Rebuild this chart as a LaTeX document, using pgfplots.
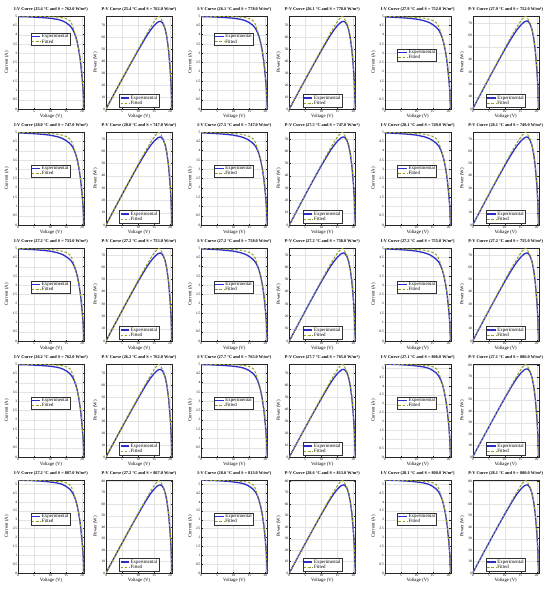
\documentclass[border=0pt]{standalone}
\usepackage{fontspec}
\setmainfont{Liberation Serif}
\usepackage{pgfplots}
\pgfplotsset{compat=1.18}
\usepackage{pgfplotstable}

\definecolor{expblue}{RGB}{45,45,200}
\definecolor{fitolive}{RGB}{145,160,35}

\pgfplotstableread{
V I P
0 4.97 0
2 4.96 9.92
4 4.95 19.80
6 4.93 29.58
8 4.91 39.28
10 4.88 48.80
12 4.83 57.96
13 4.79 62.27
14 4.73 66.22
15 4.64 69.60
16 4.51 72.16
16.5 4.42 72.93
17 4.30 73.10
17.5 4.13 72.28
18 3.90 70.20
18.5 3.58 66.23
19 3.14 59.66
19.5 2.55 49.73
20 1.70 34.00
20.3 1.05 21.32
20.6 0 0
}\expA
\pgfplotstableread{
V I P
0 4.99 0
2 4.99 9.98
4 4.98 19.92
6 4.98 29.88
8 4.97 39.76
10 4.96 49.60
12 4.94 59.28
13 4.93 64.09
14 4.90 68.60
15 4.86 72.90
15.5 4.82 74.71
16 4.77 76.32
16.5 4.70 77.55
17 4.48 76.16
17.5 4.22 73.85
18 3.95 71.10
18.5 3.60 66.60
19 3.20 60.80
19.5 2.62 51.09
20 1.78 35.60
20.3 1.10 22.33
20.6 0 0
}\fitA
\pgfplotstableread{
V I P
0 4.95 0
2 4.94 9.88
4 4.92 19.68
6 4.90 29.40
8 4.87 38.96
10 4.83 48.30
12 4.76 57.12
13 4.71 61.23
14 4.64 64.96
15 4.54 68.10
16 4.41 70.56
16.5 4.32 71.28
17 4.21 71.57
17.5 4.04 70.70
18 3.81 68.58
18.5 3.50 64.75
19 3.07 58.33
19.5 2.49 48.56
20 1.66 33.20
20.3 1.03 20.91
20.6 0 0
}\expB
\pgfplotstableread{
V I P
0 4.97 0
2 4.97 9.94
4 4.96 19.84
6 4.95 29.70
8 4.94 39.52
10 4.92 49.20
12 4.89 58.68
13 4.86 63.18
14 4.82 67.48
15 4.76 71.40
15.5 4.71 73.01
16 4.65 74.40
16.5 4.58 75.57
17 4.37 74.29
17.5 4.11 71.93
18 3.85 69.30
18.5 3.51 64.94
19 3.12 59.28
19.5 2.55 49.73
20 1.74 34.80
20.3 1.07 21.72
20.6 0 0
}\fitB
\pgfplotstableread{
V I P
0 5.22 0
2 5.21 10.42
4 5.20 20.80
6 5.18 31.08
8 5.16 41.28
10 5.12 51.20
12 5.07 60.84
13 5.03 65.39
14 4.97 69.58
15 4.87 73.05
16 4.74 75.84
16.5 4.64 76.56
17 4.52 76.84
17.5 4.34 75.95
18 4.10 73.80
18.5 3.76 69.56
19 3.30 62.70
19.5 2.68 52.26
20 1.79 35.80
20.3 1.10 22.33
20.6 0 0
}\expC
\pgfplotstableread{
V I P
0 5.23 0
2 5.22 10.44
4 5.21 20.84
6 5.20 31.20
8 5.19 41.52
10 5.18 51.80
12 5.16 61.92
13 5.15 66.95
14 5.12 71.68
15 5.08 76.20
15.5 5.04 78.12
16 4.98 79.68
16.5 4.91 81.02
17 4.68 79.56
17.5 4.41 77.18
18 4.13 74.34
18.5 3.76 69.56
19 3.34 63.46
19.5 2.74 53.43
20 1.86 37.20
20.3 1.15 23.35
20.6 0 0
}\fitC

\pgfplotsset{
  pbase/.style={
    scale only axis, width=132pt, height=186pt,
    xmin=0, xmax=20.6, ymin=0, enlargelimits=false,
    xtick={0,5,10,15,20},
    grid=major, major grid style={gray!22, line width=0.4pt},
    axis line style={black!85, line width=0.6pt},
    tick align=inside, major tick length=2.5pt,
    tick style={black!85, line width=0.5pt},
    tick label style={font=\fontsize{7}{7}\selectfont},
    /pgf/number format/assume math mode=true,
    xticklabel style={inner sep=1.5pt},
    yticklabel style={inner sep=1.5pt},
    xlabel={Voltage (V)},
    xlabel style={font=\fontsize{9.5}{9.5}\selectfont, at={(axis description cs:0.5,-0.06)}, anchor=north, inner sep=0pt},
    title style={font=\bfseries\fontsize{8.6}{9}\selectfont, at={(axis description cs:0.5,1)}, anchor=south, inner sep=2pt},
    legend cell align=left,
    legend style={font=\fontsize{9.8}{9.8}\selectfont, draw=black!80, line width=0.4pt,
      inner sep=1pt, row sep=-1.5pt, fill=white},
  },
  ivstyle/.style={pbase, ymax=5,
    ytick={0,0.5,1,1.5,2,2.5,3,3.5,4,4.5,5},
    ylabel={Current (A)},
    ylabel style={font=\fontsize{9.5}{9.5}\selectfont, at={(axis description cs:-0.17,0.5)}, anchor=center},
  },
  pvstyle/.style={pbase,
    ytick={0,10,20,30,40,50,60,70,80},
    ylabel={Power (W)},
    ylabel style={font=\fontsize{9.5}{9.5}\selectfont, at={(axis description cs:-0.16,0.5)}, anchor=center},
    legend style={at={(axis description cs:0.5,0.02)}, anchor=south},
  },
  expline/.style={expblue, line width=2.6pt, solid},
  fitline/.style={fitolive, line width=2pt, dash pattern=on 5pt off 3.5pt},
}

% #1 x offset, #2 y top, #3 temp, #4 irradiance, #5 exp table, #6 fit table,
% #7 I-V legend y, #8 I-V ymax, #9 P-V ymax
\newcommand{\panel}[9]{%
\begin{axis}[ivstyle, at={(#1pt+36pt,-#2pt)}, anchor=north west, ymax=#8,
  title={I-V Curve (#3 °C and S = #4 W/m\textsuperscript{2})},
  legend style={at={(axis description cs:0.19,#7)}, anchor=north west}]
\addplot[expline] table[x=V,y=I]{#5};
\addplot[fitline] table[x=V,y=I]{#6};
\legend{Experimental,Fitted}
\end{axis}
\begin{axis}[pvstyle, at={(#1pt+212pt,-#2pt)}, anchor=north west, ymax=#9,
  title={P-V Curve (#3 °C and S = #4 W/m\textsuperscript{2})}]
\addplot[expline] table[x=V,y=P]{#5};
\addplot[fitline] table[x=V,y=P]{#6};
\legend{Experimental,Fitted}
\end{axis}}

\begin{document}
\begin{tikzpicture}
\useasboundingbox[fill=white] (0pt,0pt) rectangle (1100pt,-1186pt);
% Row 1
\panel{0}{32}{25.4}{762.0}{\expA}{\fitA}{0.82}{5}{77.6}
\panel{366.67}{32}{26.1}{778.0}{\expA}{\fitA}{0.82}{5}{77.6}
\panel{733.33}{32}{27.9}{752.0}{\expB}{\fitB}{0.65}{5}{75.6}
% Row 2
\panel{0}{264}{28.0}{747.0}{\expB}{\fitB}{0.65}{5}{75.6}
\panel{366.67}{264}{27.5}{747.0}{\expB}{\fitB}{0.65}{5}{75.6}
\panel{733.33}{264}{28.1}{749.0}{\expB}{\fitB}{0.65}{5}{75.6}
% Row 3
\panel{0}{496}{27.2}{753.0}{\expB}{\fitB}{0.65}{5}{75.6}
\panel{366.67}{496}{27.2}{758.0}{\expB}{\fitB}{0.65}{5}{75.6}
\panel{733.33}{496}{27.2}{755.0}{\expB}{\fitB}{0.65}{5}{75.6}
% Row 4
\panel{0}{728}{26.2}{762.0}{\expA}{\fitA}{0.65}{5}{77.6}
\panel{366.67}{728}{27.7}{765.0}{\expA}{\fitA}{0.65}{5}{77.6}
\panel{733.33}{728}{27.1}{806.0}{\expC}{\fitC}{0.65}{5.23}{81.1}
% Row 5
\panel{0}{960}{27.2}{807.0}{\expC}{\fitC}{0.65}{5.23}{81.1}
\panel{366.67}{960}{28.6}{813.0}{\expC}{\fitC}{0.65}{5.23}{81.1}
\panel{733.33}{960}{28.1}{800.0}{\expC}{\fitC}{0.65}{5.23}{81.1}
\end{tikzpicture}
\end{document}
